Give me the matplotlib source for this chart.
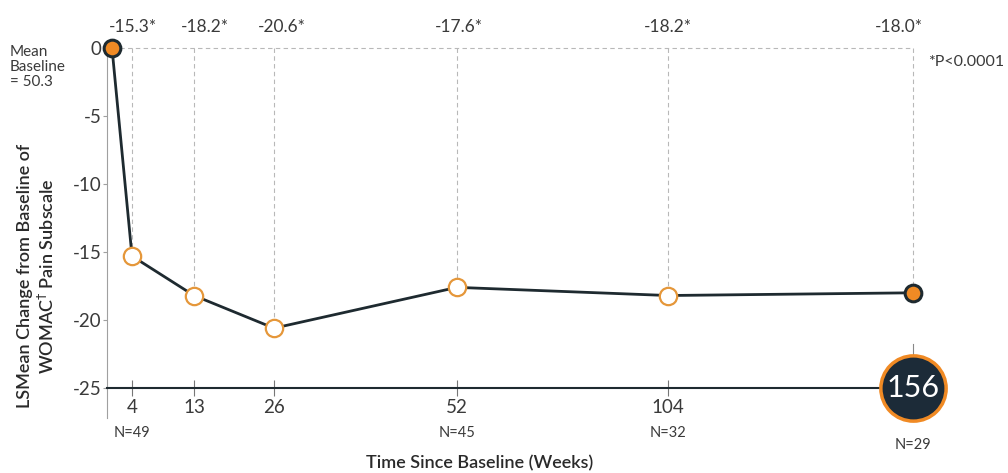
import numpy as np
import matplotlib
matplotlib.use("Agg")
import matplotlib.pyplot as plt

# ---------------- data ----------------
weeks = [0, 4, 13, 26, 52, 104, 156]
lsmean_change = [0.0, -15.3, -18.2, -20.6, -17.6, -18.2, -18.0]
change_labels = ["-15.3*", "-18.2*", "-20.6*", "-17.6*", "-18.2*", "-18.0*"]
tick_weeks = [4, 13, 26, 52, 104]
n_weeks = [4, 52, 104, 156]
n_labels = ["N=49", "N=45", "N=32", "N=29"]
yticks = [0, -5, -10, -15, -20, -25]

# ---------------- layout (axis mapping, in pixels) ----------------
W, H = 1008, 473
axis_weeks = np.array([0, 4, 13, 26, 52, 104, 156], float)
axis_px = np.array([112, 132, 194, 274, 457, 668, 913], float)
s0 = (axis_px[1] - axis_px[0]) / (axis_weeks[1] - axis_weeks[0])
sN = (axis_px[-1] - axis_px[-2]) / (axis_weeks[-1] - axis_weeks[-2])


def fwd(w):
    w = np.asarray(w, float)
    out = np.interp(w, axis_weeks, axis_px)
    out = out + np.where(w < axis_weeks[0], (w - axis_weeks[0]) * s0, 0)
    out = out + np.where(w > axis_weeks[-1], (w - axis_weeks[-1]) * sN, 0)
    return out


def inv(p):
    p = np.asarray(p, float)
    out = np.interp(p, axis_px, axis_weeks)
    out = out + np.where(p < axis_px[0], (p - axis_px[0]) / s0, 0)
    out = out + np.where(p > axis_px[-1], (p - axis_px[-1]) / sN, 0)
    return out


FONT = ["Lato", "DejaVu Sans"]
plt.rcParams["font.family"] = FONT
TXT = "#3a3a3a"
DARK = "#1e2a30"
ORANGE = "#f08a24"
RING = "#e5973a"
GRID = "#b8b8b8"

fig = plt.figure(figsize=(W / 100, H / 100), dpi=100)
left_px, right_px, top_px, bot_px = 107, 913, 48, 418
ax = fig.add_axes([left_px / W, 1 - bot_px / H, (right_px - left_px) / W, (bot_px - top_px) / H])
ax.set_xscale("function", functions=(fwd, inv))
ax.set_xlim(float(inv(left_px)), 156)
ax.set_ylim(-(bot_px - top_px) / 13.6, 0)

for s in ["top", "right"]:
    ax.spines[s].set_visible(False)
ax.spines["left"].set_color("#a0a0a0")
ax.spines["left"].set_linewidth(0.8)
ax.spines["bottom"].set_position(("data", -25))
ax.spines["bottom"].set_color(DARK)
ax.spines["bottom"].set_linewidth(1.5)

ax.set_yticks(yticks)
ax.set_yticklabels([str(v) for v in yticks])
ax.tick_params(axis="y", direction="out", length=3, width=0.8, color="#a0a0a0",
               labelsize=13.5, labelcolor=TXT, pad=1)
ax.set_xticks(tick_weeks)
ax.set_xticklabels([str(v) for v in tick_weeks])
ax.tick_params(axis="x", direction="inout", length=12, width=0.8, color="#777777",
               labelsize=13.5, labelcolor=TXT, pad=2)
ax.xaxis.set_minor_locator(matplotlib.ticker.NullLocator())

# dashed reference lines
ax.plot([weeks[0], weeks[-1]], [0, 0], ls=(0, (4, 3)), color=GRID, lw=0.8, zorder=1, clip_on=False)
for w, v in zip(weeks[1:], lsmean_change[1:]):
    ax.plot([w, w], [0, v], ls=(0, (4, 3)), color=GRID, lw=0.8, zorder=1, clip_on=False)

# main line
ax.plot(weeks, lsmean_change, color=DARK, lw=2.0, zorder=3, clip_on=False)
ax.plot(weeks[1:-1], lsmean_change[1:-1], "o", ms=12.5, mfc="white", mec=RING, mew=1.6,
        zorder=4, clip_on=False)
ax.plot([weeks[0], weeks[-1]], [lsmean_change[0], lsmean_change[-1]], "o", ms=12, mfc=ORANGE,
        mec=DARK, mew=2.2, zorder=5, clip_on=False)

# value labels on top
label_dx = [1, 11, 8, 2, 0, -14]
for w, lab, dx in zip(weeks[1:], change_labels, label_dx):
    ax.annotate(lab, xy=(w, 0), xycoords="data", xytext=(dx * 0.72, 15), textcoords="offset points",
                ha="center", va="center", fontsize=12.5, color=TXT, annotation_clip=False)

# N labels
for w, lab in zip(n_weeks, n_labels):
    dy = -32.5 if w != 156 else -41
    ax.annotate(lab, xy=(w, -25), xytext=(0, dy), textcoords="offset points",
                ha="center", va="center", fontsize=10.5, color=TXT, annotation_clip=False)

# 156 badge
ax.plot([156, 156], [-25, -21.8], color="#888888", lw=0.8, zorder=5, clip_on=False)
ax.plot([156], [-25], "o", ms=47, mfc="#1c2b38", mec=ORANGE, mew=2.5, zorder=6, clip_on=False)
ax.text(156, -25, "156", ha="center", va="center", fontsize=22, color="white",
        fontweight="normal", zorder=7, clip_on=False)

# axis titles and notes
fig.text(480 / W, 1 - 463 / H, "Time Since Baseline (Weeks)", ha="center", va="center",
         fontsize=13, color="#2a2a2a", fontweight="semibold")
fig.text(37 / W, 1 - 276 / H, "LSMean Change from Baseline of\nWOMAC$^{\\dagger}$ Pain Subscale",
         ha="center", va="center", rotation=90, fontsize=13, color="#2a2a2a",
         fontweight="semibold", multialignment="center", linespacing=1.25)
fig.text(10 / W, 1 - 67 / H, "Mean\nBaseline\n= 50.3", ha="left", va="center", fontsize=11,
         color=TXT, linespacing=1.1)
fig.text(928 / W, 1 - 62 / H, "*P<0.0001", ha="left", va="center", fontsize=11.5, color=TXT)

fig.savefig("out.png", dpi=100)
